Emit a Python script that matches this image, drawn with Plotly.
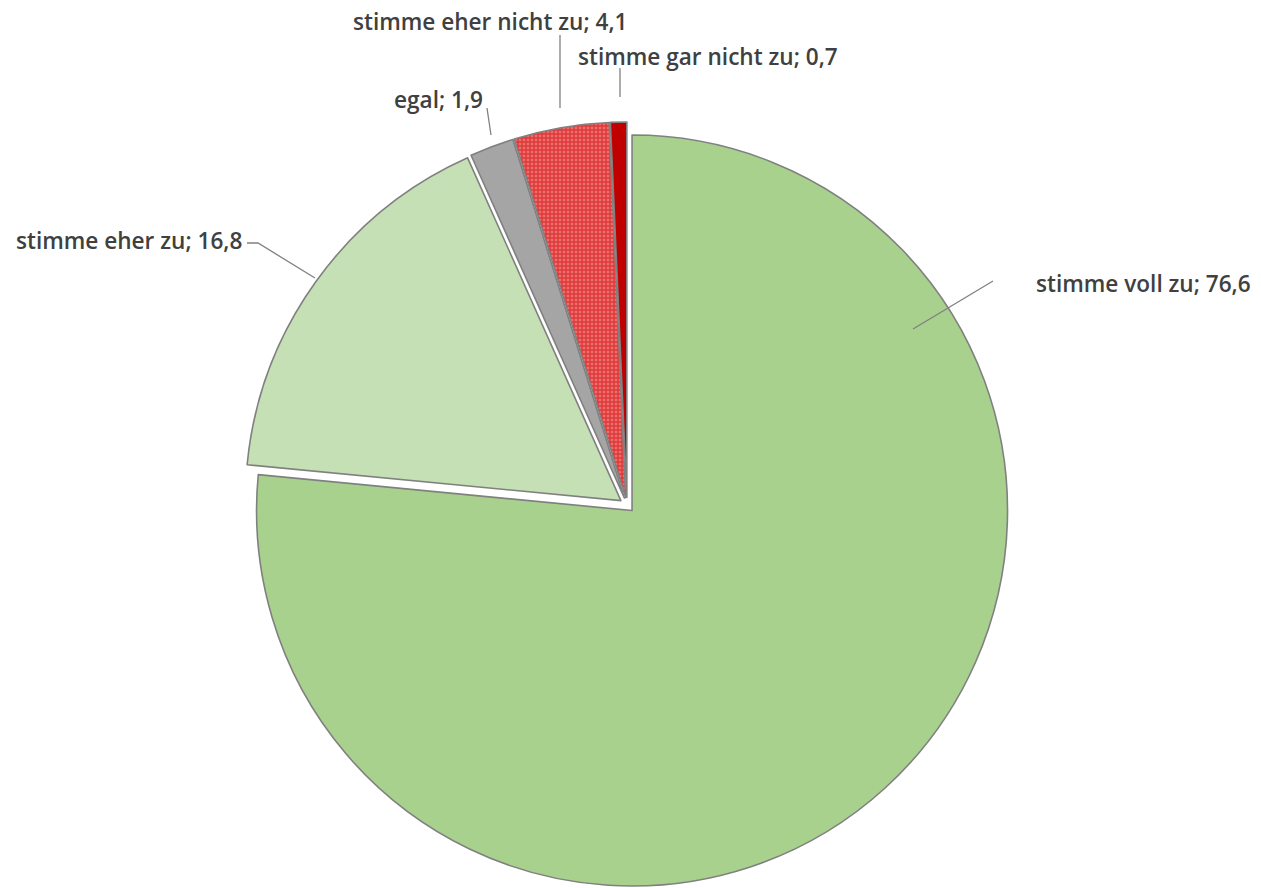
import plotly.graph_objects as go

# Survey answers and their shares (in %)
labels = ["stimme voll zu", "stimme eher zu", "egal", "stimme eher nicht zu", "stimme gar nicht zu"]
values = [76.6, 16.8, 1.9, 4.1, 0.7]
colors = ["#A9D18E", "#C5E0B4", "#A5A5A5", "#EA7070", "#C00000"]
patterns = ["", "", "", "+", ""]

W, H = 1261, 888


def px(x, y):
    """Pixel position -> paper coordinates."""
    return x / W, 1 - y / H


# pie placement (domain centred on the pie centre)
cx, cy, avail = 627, 506, 768
dx = [(cx - avail / 2) / W, (cx + avail / 2) / W]
dy = [max(0.0, 1 - (cy + avail / 2) / H), 1 - (cy - avail / 2) / H]

fig = go.Figure(
    go.Pie(
        labels=labels,
        values=values,
        sort=False,
        direction="clockwise",
        rotation=0,
        pull=[0.02] * len(values),
        textinfo="none",
        hoverinfo="label+value",
        marker=dict(
            colors=colors,
            line=dict(color="#808080", width=1.6),
            pattern=dict(
                shape=patterns,
                fgcolor="#D40000",
                bgcolor=colors,
                size=4,
                solidity=0.58,
                fillmode="overlay",
            ),
        ),
        domain=dict(x=dx, y=dy),
        showlegend=False,
    )
)


def fmt(v):
    return f"{v:.1f}".replace(".", ",")


# label text position (pixels, anchor) and leader line path for each slice
label_pos = {
    "stimme voll zu": (1034, 283, "left"),
    "stimme eher zu": (244, 241, "right"),
    "egal": (485, 100, "right"),
    "stimme eher nicht zu": (490, 22, "center"),
    "stimme gar nicht zu": (708, 56, "center"),
}
leaders = {
    "stimme voll zu": [(993, 281), (913, 329)],
    "stimme eher zu": [(247, 243), (258, 243), (315, 278)],
    "egal": [(487, 108), (491, 135)],
    "stimme eher nicht zu": [(560, 35), (560, 108)],
    "stimme gar nicht zu": [(620, 68), (620, 97)],
}

annotations = []
shapes = []
for lab, val in zip(labels, values):
    x, y, anchor = label_pos[lab]
    ax, ay = px(x, y)
    annotations.append(
        dict(
            x=ax, y=ay, xref="paper", yref="paper",
            text=f"{lab}; {fmt(val)}",
            showarrow=False,
            xanchor=anchor, yanchor="middle",
            font=dict(family="Open Sans, Liberation Sans, sans-serif", size=22.6,
                      weight=600, color="#404040"),
        )
    )
    pts = [px(a, b) for a, b in leaders[lab]]
    path = "M " + " L ".join(f"{p[0]:.5f},{p[1]:.5f}" for p in pts)
    shapes.append(
        dict(type="path", path=path, xref="paper", yref="paper",
             line=dict(color="#808080", width=1.3))
    )

fig.update_layout(
    width=W,
    height=H,
    margin=dict(l=0, r=0, t=0, b=0),
    paper_bgcolor="white",
    plot_bgcolor="white",
    annotations=annotations,
    shapes=shapes,
)

fig.write_html("out.html")
